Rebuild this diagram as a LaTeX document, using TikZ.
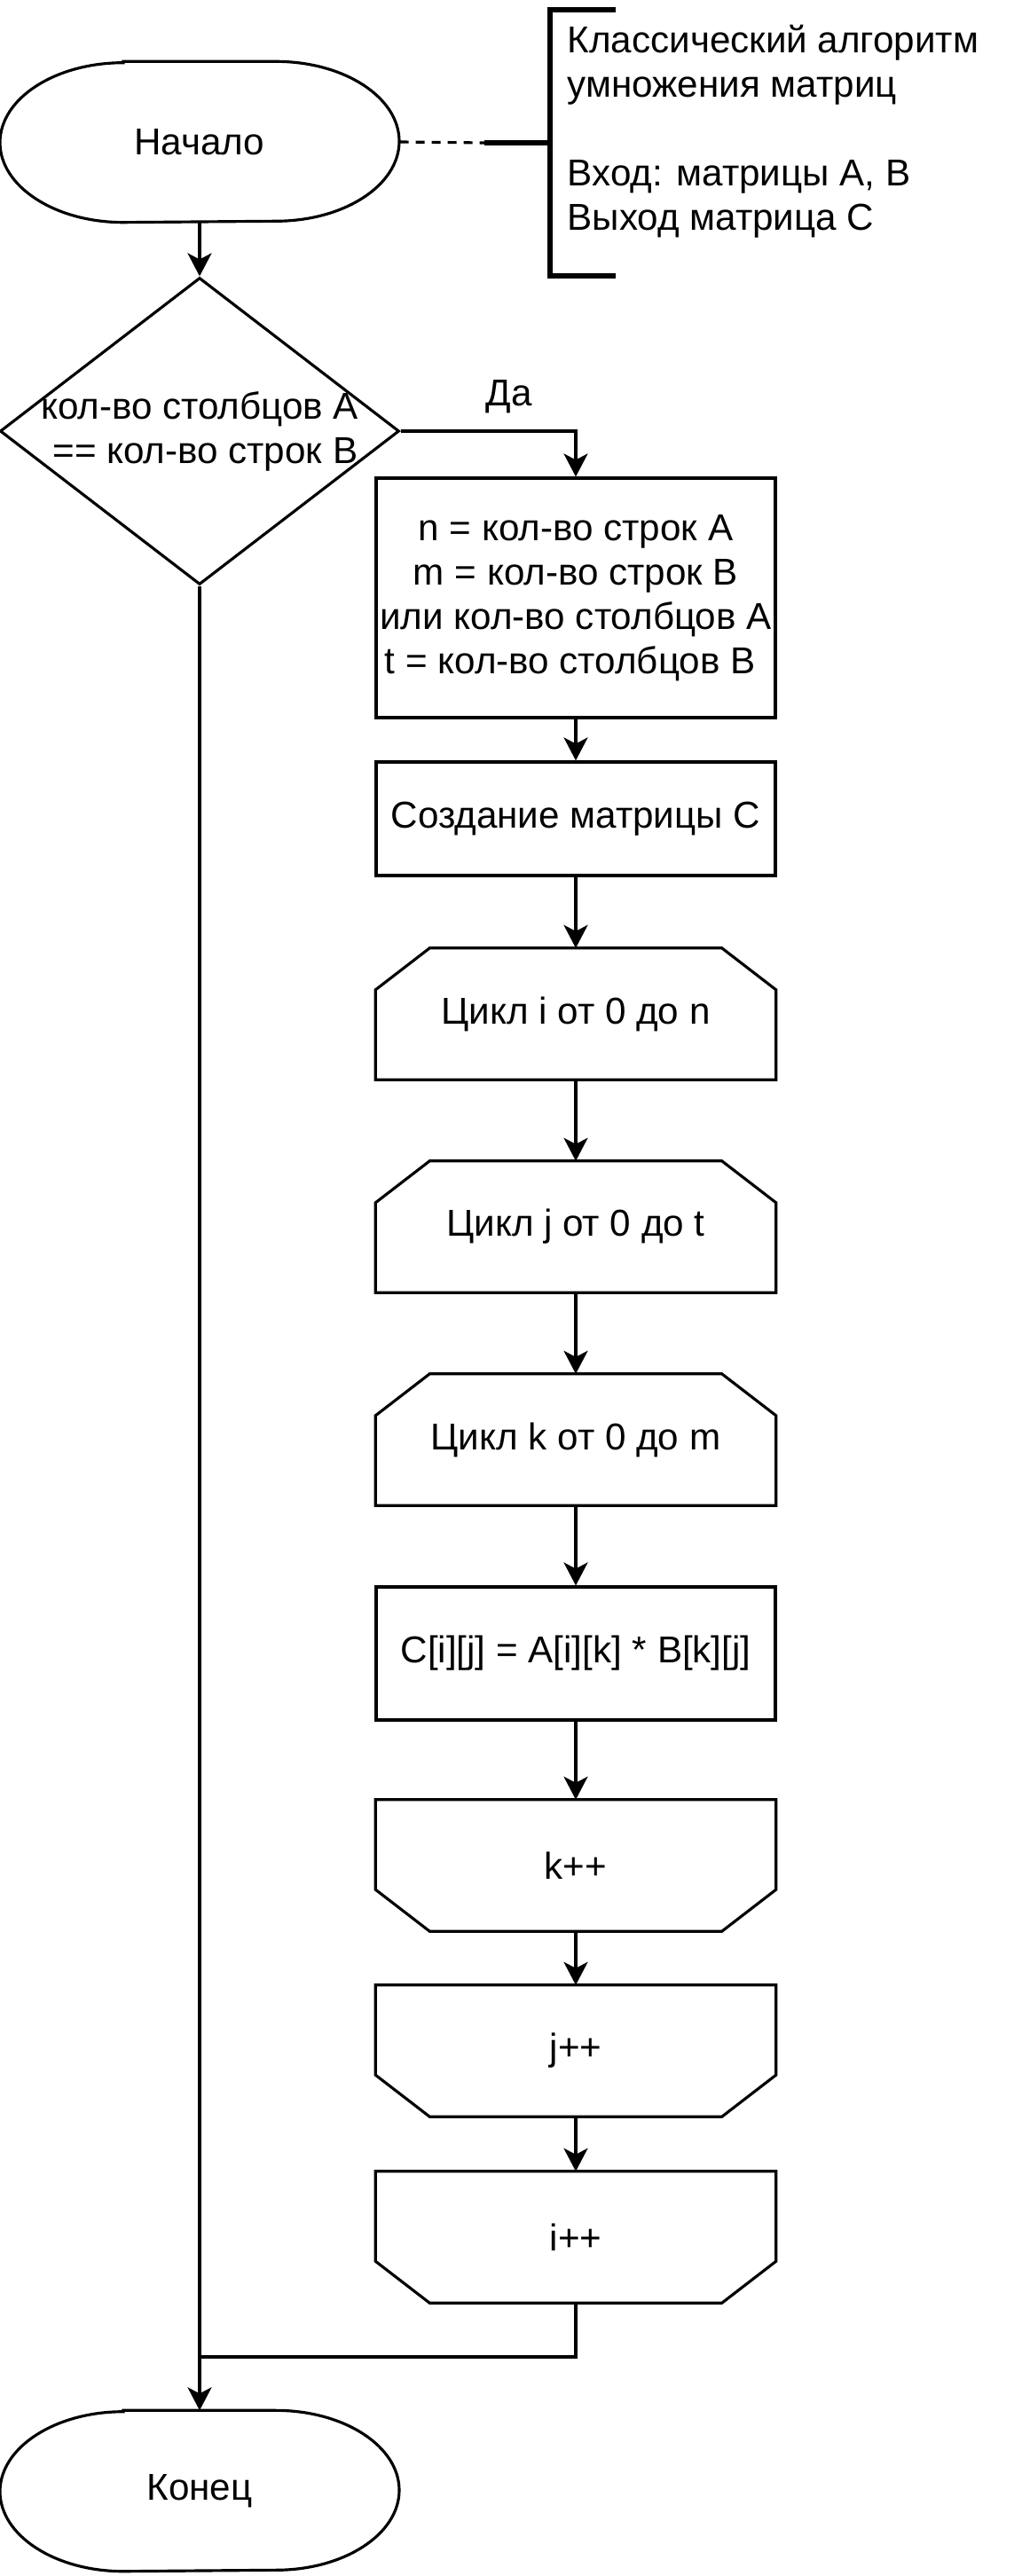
\documentclass[tikz,border=0pt]{standalone}
\usepackage{fontspec}
\setmainfont{Liberation Sans}
\usetikzlibrary{shapes.geometric,arrows.meta}
\tikzset{
	blok/.style={draw,line width=0.9pt,minimum width=4.5cm,align=center,inner sep=0pt},
	term/.style={minimum width=4.5cm,minimum height=1.8cm,inner sep=0pt},
	usl/.style={draw,line width=0.9pt,diamond,minimum width=4.5cm,minimum height=3.46cm,inner sep=0pt},
	cikl/.style={minimum width=4.5cm,minimum height=1.47cm,inner sep=0pt},
	strelka/.style={->,line width=0.9pt},
}
\begin{document}
\begin{tikzpicture}[>={Stealth[length=2.6mm,width=2.7mm,inset=0.7mm]},line join=miter,font=\fontsize{12}{14.2}\selectfont]
			\useasboundingbox (0,0) rectangle (11.52,-29.04);
			\node[term](nach) at (2.25,-1.6){Начало};
			\node[usl,label={[align=center]center:кол-во столбцов А\\\hspace*{0.3em}== кол-во строк В}](usl) at (2.25,-4.86){};
			\node[blok,minimum height=2.7cm](init) at (6.49,-6.74){n = кол-во строк А\\m = кол-во строк В\\или кол-во столбцов А\\t = кол-во столбцов В\hspace*{0.3em}};
			\node[blok,minimum height=1.28cm](sozd) at (6.49,-9.23){Создание матрицы С};
			\node[cikl](ci) at (6.49,-11.43){Цикл i от 0 до n};
			\node[cikl](cj) at (6.49,-13.83){Цикл j от 0 до t};
			\node[cikl](ck) at (6.49,-16.23){Цикл k от 0 до m};
			\node[blok,minimum height=1.5cm](calc) at (6.49,-18.64){C[i][j] = A[i][k] * B[k][j]};
			\node[cikl](kk) at (6.49,-21.03){k++};
			\node[cikl](jj) at (6.49,-23.12){j++};
			\node[cikl](ii) at (6.49,-25.22){i++};
			\node[term](konec) at (2.25,-28.08){Конец};
			% kontury terminatorov i ciklov
			\foreach \n in {nach,konec}
			\draw[line width=0.9pt] ([xshift=-0.86cm]\n.north) -- ([xshift=0.86cm]\n.north) arc[start angle=90,end angle=-90,x radius=1.39cm,y radius=0.9cm] -- ([xshift=-0.86cm]\n.south) arc[start angle=270,end angle=90,x radius=1.39cm,y radius=0.9cm] -- cycle;
			\foreach \n in {ci,cj,ck}
			\draw[line width=0.9pt] (\n.south west) -- ([yshift=-0.47cm]\n.north west) -- ([xshift=0.61cm]\n.north west) -- ([xshift=-0.61cm]\n.north east) -- ([yshift=-0.47cm]\n.north east) -- (\n.south east) -- cycle;
			\foreach \n in {kk,jj,ii}
			\draw[line width=0.9pt] (\n.north west) -- ([yshift=0.47cm]\n.south west) -- ([xshift=0.61cm]\n.south west) -- ([xshift=-0.61cm]\n.south east) -- ([yshift=0.47cm]\n.south east) -- (\n.north east) -- cycle;
			% kommentarij
			\node[anchor=west,align=left,inner sep=0pt](opis) at (6.39,-1.48){Классический алгоритм\\умножения матриц\\[14.2pt]Вход: матрицы А, В\\Выход матрица С};
			\coordinate (skob) at (5.46,-1.61);
			\draw[line width=1.8pt] (6.94,-0.11) -- (6.2,-0.11) -- (6.2,-3.11) -- (6.94,-3.11);
			\draw[line width=1.8pt] (skob) -- (6.2,-1.61);
			\draw[line width=0.9pt,dash pattern=on 0.1cm off 0.08cm] (nach.east) -- (skob);
			% strelki
			\draw[strelka] (nach.south) -- (usl.north);
			\draw[strelka] (usl.east) -| node[pos=0.31,above=2pt](da){Да} (init.north);
			\draw[strelka] (init.south) -- (sozd.north);
			\draw[strelka] (sozd.south) -- (ci.north);
			\draw[strelka] (ci.south) -- (cj.north);
			\draw[strelka] (cj.south) -- (ck.north);
			\draw[strelka] (ck.south) -- (calc.north);
			\draw[strelka] (calc.south) -- (kk.north);
			\draw[strelka] (kk.south) -- (jj.north);
			\draw[strelka] (jj.south) -- (ii.north);
			\draw[strelka] (usl.south) -- (konec.north);
			\coordinate (sliyanie) at (2.25,-26.57);
			\draw[line width=0.9pt] (ii.south) |- (sliyanie);
\end{tikzpicture}
\end{document}
